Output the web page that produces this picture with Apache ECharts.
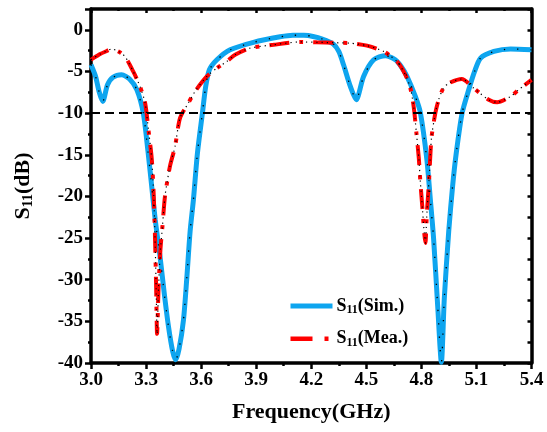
<!DOCTYPE html>
<html><head><meta charset="utf-8">
<script src="https://cdn.jsdelivr.net/npm/echarts@6/dist/echarts.min.js"></script>
<style>html,body{margin:0;padding:0;background:#fff}#c{width:547px;height:432px}</style>
</head><body><div id="c"></div>
<script>
// Simulated S11 (GHz, dB)
const simFreq = [3.00,3.025,3.045,3.064,3.09,3.12,3.167,3.21,3.25,3.285,3.31,3.327,3.35,3.376,3.40,3.422,3.445,3.462,3.48,3.504,3.522,3.54,3.558,3.58,3.607,3.625,3.645,3.686,3.758,3.885,4.03,4.10,4.16,4.21,4.26,4.32,4.35,4.376,4.413,4.445,4.485,4.54,4.604,4.658,4.69,4.722,4.767,4.795,4.83,4.849,4.867,4.889,4.909,4.925,4.949,4.97,4.99,5.022,5.058,5.09,5.122,5.195,5.286,5.40];
const simS11  = [-4.2,-5.6,-7.5,-8.6,-6.6,-5.7,-5.4,-5.9,-7.2,-10.0,-14.5,-18.0,-22.8,-27.2,-31.8,-35.6,-38.6,-39.6,-38.3,-34.8,-29.8,-24.2,-20.4,-14.8,-10.0,-6.8,-4.8,-3.6,-2.4,-1.5,-0.84,-0.65,-0.66,-0.8,-1.1,-1.7,-2.6,-4.2,-6.8,-8.4,-5.6,-3.6,-3.1,-3.6,-4.4,-5.6,-8.0,-10.0,-15.6,-20.4,-25.2,-33.2,-39.9,-32.2,-24.2,-18.8,-14.8,-10.0,-7.2,-5.0,-3.4,-2.6,-2.3,-2.4];
// Measured S11 (GHz, dB)
const meaFreq = [3.00,3.013,3.05,3.08,3.113,3.15,3.185,3.23,3.267,3.295,3.313,3.331,3.342,3.35,3.355,3.36,3.368,3.378,3.39,3.403,3.43,3.458,3.485,3.53,3.567,3.631,3.686,3.74,3.785,3.867,3.994,4.14,4.23,4.33,4.413,4.504,4.595,4.667,4.713,4.74,4.758,4.773,4.786,4.795,4.806,4.816,4.822,4.83,4.842,4.855,4.876,4.894,4.92,4.95,5.02,5.085,5.167,5.213,5.286,5.33,5.40];
const meaS11  = [-3.6,-3.4,-2.9,-2.6,-2.3,-2.6,-3.2,-5.0,-6.8,-8.8,-12.0,-15.5,-20,-26,-31,-36.5,-31,-26.5,-23.4,-20,-16.4,-14,-10.6,-8.8,-7.4,-5.6,-4.6,-3.8,-3.0,-2.2,-1.8,-1.45,-1.5,-1.55,-1.6,-1.9,-2.6,-3.8,-5.4,-7.0,-9.2,-12.4,-15.4,-18.4,-21.5,-24.5,-25.6,-22,-18,-13,-10,-8.4,-7.0,-6.4,-5.9,-7.0,-8.4,-8.7,-8.0,-7.2,-6.0];
const seriesNames = ['S11(Sim.)','S11(Mea.)'];
const refLevel = -10;

const FONT = "'Liberation Serif','Times New Roman',serif";
const zip = (a,b) => a.map((v,i)=>[v,b[i]]);
const simData = zip(simFreq, simS11);
const meaData = zip(meaFreq, meaS11);

const chart = echarts.init(document.getElementById('c'), null, {renderer:'canvas'});
const axisLineStyle = {color:'#000', width:3.5};
const xBase = {type:'value', min:3.0, max:5.4, interval:0.3, splitLine:{show:false}};
const yBase = {type:'value', min:-40, max:2.5, splitLine:{show:false}};
const rich = {
  n:{fontFamily:FONT, fontWeight:'bold', fontSize:18, color:'#000', lineHeight:20},
  s:{fontFamily:FONT, fontWeight:'bold', fontSize:12, color:'#000', lineHeight:12, verticalAlign:'bottom'}
};
const richY = {
  n:{fontFamily:FONT, fontWeight:'bold', fontSize:22, color:'#000', lineHeight:24},
  s:{fontFamily:FONT, fontWeight:'bold', fontSize:14, color:'#000', lineHeight:14, verticalAlign:'bottom'}
};
const sub = name => name.replace(/^S11(.*)$/, '{n|S}{s|11}{n|$1}');
const simColor = '#0ea5ef', meaColor = '#ff0000';
const meaDash = [22,12,4,10];

chart.setOption({
  animation:false,
  backgroundColor:'#fff',
  grid:{left:91, right:15.5, top:9, bottom:69},
  legend:{
    data:[
      {name:seriesNames[0], lineStyle:{width:5, color:simColor}},
      {name:seriesNames[1], lineStyle:{width:4.5, color:meaColor, type:meaDash, cap:'butt'}}
    ],
    orient:'vertical', left:288, top:297,
    itemWidth:42, itemHeight:14, itemGap:13.7, padding:0,
    itemStyle:{color:'rgba(0,0,0,0)', borderWidth:0, opacity:0},
    formatter: sub,
    textStyle:{rich:rich, padding:[0,0,0,-1]}
  },
  xAxis:[
    Object.assign({}, xBase, {
      position:'bottom',
      name:'Frequency(GHz)', nameLocation:'middle', nameGap:38,
      nameTextStyle:{fontFamily:FONT, fontWeight:'bold', fontSize:22, color:'#000'},
      axisLine:{onZero:false, lineStyle:axisLineStyle},
      axisTick:{inside:false, length:6, lineStyle:{color:'#000', width:2.5}},
      minorTick:{show:true, splitNumber:2, length:3, lineStyle:{color:'#000', width:2.5}},
      axisLabel:{fontFamily:FONT, fontWeight:'bold', fontSize:19, color:'#000', margin:8,
        formatter:v=>v.toFixed(1)}
    }),
    Object.assign({}, xBase, {
      position:'top',
      axisLine:{onZero:false, lineStyle:axisLineStyle},
      axisTick:{inside:true, length:4, lineStyle:{color:'#000', width:2.5}},
      minorTick:{show:true, splitNumber:2, length:2, lineStyle:{color:'#000', width:2.5}},
      axisLabel:{show:false}
    })
  ],
  yAxis:[
    Object.assign({}, yBase, {
      position:'left', interval:5,
      name:'{n|S}{s|11}{n|(dB)}', nameLocation:'middle', nameGap:56,
      nameTextStyle:{rich:richY},
      axisLine:{onZero:false, lineStyle:axisLineStyle},
      axisTick:{inside:false, length:6, lineStyle:{color:'#000', width:2.5}},
      axisLabel:{fontFamily:FONT, fontWeight:'bold', fontSize:19, color:'#000', margin:8,
        formatter:v=> (Math.abs(v % 5) < 1e-6 ? String(v) : '')}
    }),
    Object.assign({}, yBase, {
      position:'right', interval:2.5,
      axisLine:{onZero:false, lineStyle:axisLineStyle},
      axisTick:{inside:true, length:4, lineStyle:{color:'#000', width:2.5}},
      axisLabel:{show:false}
    }),
    Object.assign({}, yBase, {
      position:'left', interval:2.5,
      axisLine:{show:false},
      axisTick:{inside:false, length:3, lineStyle:{color:'#000', width:2.5}},
      axisLabel:{show:false}
    })
  ],
  series:[
    {
      name:seriesNames[0], type:'line', data:simData, showSymbol:false, symbol:'none',
      smooth:0.25, lineStyle:{color:simColor, width:5}, itemStyle:{color:simColor}, z:3,
      markLine:{silent:true, symbol:['none','none'], label:{show:false},
        lineStyle:{color:'#000', type:[9,5], width:2}, data:[{yAxis:refLevel}]}
    },
    {
      name:seriesNames[1], type:'line', data:meaData, showSymbol:false, symbol:'none',
      smooth:0.25, lineStyle:{color:meaColor, width:4, type:[20,10,4,10], cap:'butt'},
      itemStyle:{color:meaColor}, z:4
    },
    {
      name:'simDots', type:'line', data:simData, showSymbol:false, symbol:'none', smooth:0.25,
      lineStyle:{color:'#000', width:1.3, type:[1.3,12]}, z:5, silent:true
    },
    {
      name:'meaDots', type:'line', data:meaData, showSymbol:false, symbol:'none', smooth:0.25,
      lineStyle:{color:'#000', width:1.2, type:[1.2,4]}, z:6, silent:true
    }
  ]
});
</script>
</body></html>
